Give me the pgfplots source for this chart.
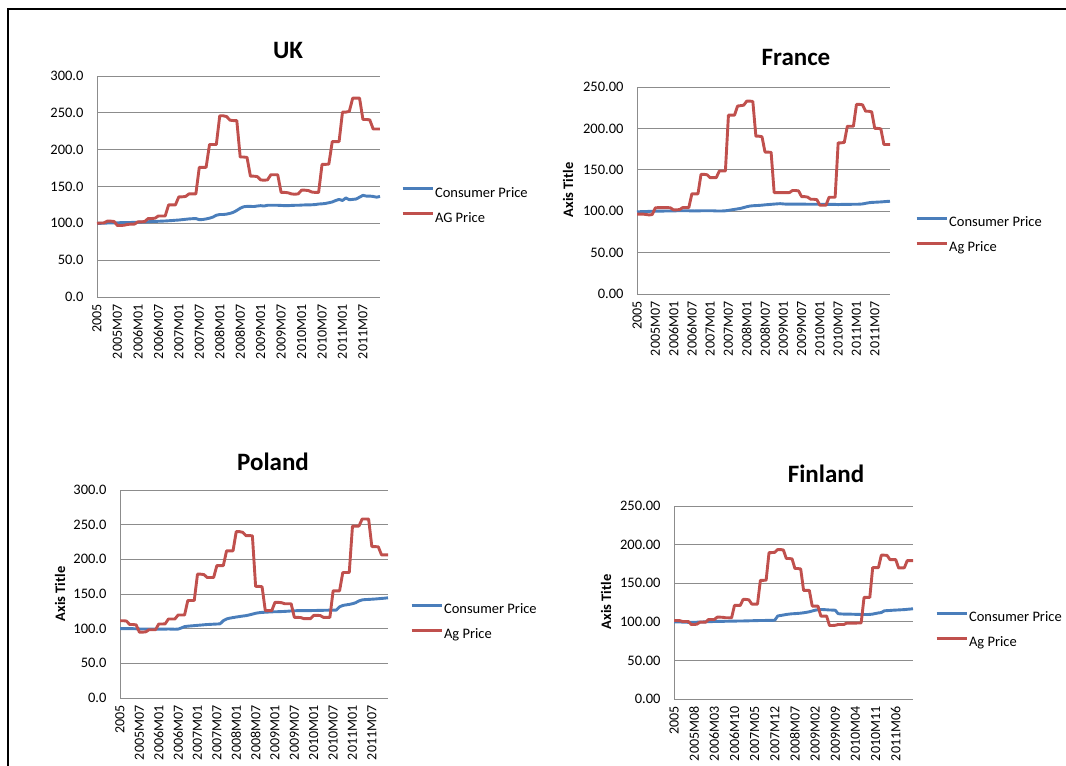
\documentclass[border=0pt]{standalone}
\usepackage{pgfplots}
\pgfplotsset{compat=1.18}
\usepackage{pgfplotstable}
\usepackage{fontspec}
\setmainfont{Carlito}

\definecolor{cpi}{RGB}{74,126,187}
\definecolor{ag}{RGB}{192,80,77}
\definecolor{gridc}{RGB}{140,140,140}

% monthly index 2005M01 .. 2011M12, columns: consumer price, ag price
\pgfplotstableread{
cpi ag
100 100
100 100.5
100.2 100.5
100.4 103
100.5 103
100.6 102.5
100.8 97
100.9 97
101 97.5
101.1 98.5
101.2 99
101.3 99
101.5 102
101.7 102
102 102.5
102.2 106.5
102.4 106.5
102.6 107
102.8 110
103 110
103.2 110
103.5 125
103.8 125
104.2 125
104.5 136
105 136
105.5 136.5
106 140
106.3 140
106.5 140
105 176
105.2 176
106 176
107 207
108.5 207
111 207
112 246
112 246
112.5 245
113.5 240
115 239.5
117.5 239.5
120.5 190
122.5 190
123 189.5
123 164
122.8 164
123.5 163.5
124 159
123.5 158.5
124.5 159
124.5 166
124.5 166
124.5 166
124.3 142
124 142
124 141.5
124.3 140
124.5 139.5
124.5 140
124.8 145
125 145
125 144.5
125.2 142.5
125.5 142
126.2 142
126.5 180
127 180
128 180.5
129 211
131 211
132.5 211
131 251
134.5 251
132 252
132.5 270
133 270
135.5 270
138 241
137 241
137 240.5
136.5 228
135.5 228
136.5 228
}\ukdata

\pgfplotstableread{
cpi ag
99.3 96.5
99.4 96.5
99.5 96.5
99.6 96
99.8 95.5
100 96
100 104
100.1 104.4
100.1 104.4
100.2 104.4
100.3 104.4
100.3 104
100.4 101.6
100.5 101.6
100.6 102
100.6 104.4
100.6 104.4
100.5 104.4
100.4 121
100.3 121
100.4 121
100.5 144.5
100.6 144.5
100.6 144
100.6 140.5
100.5 140.5
100.3 140.5
100.2 148.5
100.3 148.5
100.5 148.5
101 216
101.6 216
102.2 216
102.8 227
103.4 227.5
104.4 228
105.4 233
106.2 233
106.6 232.5
106.8 190.6
107 190.6
107.3 190
107.7 171.4
108 171.4
108.3 171
108.6 122.5
108.9 122.5
109.1 122.5
108.8 122.5
108.5 122.5
108.5 122.5
108.5 125
108.5 125
108.5 124.5
108.5 117.6
108.5 117.6
108.4 117
108.4 114.4
108.4 114.4
108.4 114
108.4 107.2
108.4 107.2
108.3 107.2
108.3 116.8
108.3 116.8
108.2 116.8
108 182.6
108.2 182.6
108.3 183
108.3 202.6
108.3 202.6
108.4 202.6
108.4 229
108.5 229
108.8 228.5
109.5 220.7
110.2 220.7
110.6 220
110.8 200
111 200
111.2 199.5
111.5 180.6
111.8 180.6
112 180.6
}\frdata

\pgfplotstableread{
cpi ag
100 111.5
100 111.5
100 111
100 106
100 106
99.8 105.5
99.6 95
99.5 95
99.5 95.5
99.6 98.5
99.5 98.5
99.4 98.5
99.3 106.7
99.3 106.7
99.4 107
99.5 114
99.4 114
99.2 114
99.4 119.7
101 119.7
103 119.7
103.6 140.7
104 140.7
104.4 140.7
104.8 178.6
105.2 178.6
105.6 178
106 173.8
106.2 173.8
106.5 173.8
106.7 191
107 191
111.5 191
114 212.2
115.2 212.2
116 212.2
116.8 240
117.5 240
118.2 239
118.8 234.2
119.8 234.2
121 234
122.2 161
123 161
123.5 160.5
123.7 126
124 126
124.3 126
124.4 138
124.5 138
124.7 137.5
124.9 136
125.2 136
125.6 136
125.8 116.3
126 116.3
126 116
126 114.4
126 114.4
126.1 114.4
126.2 119.2
126.3 119.2
126.4 119
126.5 116.3
126.6 116.3
126.7 116.3
126.8 154.6
126.8 154.6
131.5 154.6
133.5 181
134.3 181
135 181
136 248
137.5 248
140 248
141.5 258.2
142 258.2
142.2 258
142.5 218.4
142.8 218.4
143.2 218
143.6 206.4
144 206.4
144.5 206.4
}\pldata

\pgfplotstableread{
cpi ag
100 101.7
100 101.7
99.8 101.5
99.6 100.4
99.5 100.4
99.3 100.4
99.2 96.5
99.3 96.5
99.5 97
99.7 99.6
99.8 99.6
100 99.6
100.1 103
100.3 103
100.4 103
100.5 106
100.5 106
100.6 105.8
100.7 105.2
100.8 105.2
100.8 105.2
100.9 121.2
101 121.2
101 121.2
101.1 129
101.2 129
101.3 128.5
101.4 123
101.5 123
101.6 123
101.7 153.7
101.7 153.7
101.8 154
101.8 189.7
101.9 189.7
102 190
107.5 193.6
108.2 193.6
108.8 193
109.5 182
110 182
110.4 181.5
110.6 169
110.9 169
111.2 168.5
111.7 140.7
112.3 140.7
113 140.7
114 120.4
115 120.4
115.6 120.4
116 107.4
115.8 107.4
115.6 107.4
115.3 95.2
115.2 95.2
115 95.5
110.5 96.5
110.2 96.5
110 96.5
110 98.3
110 98.3
109.8 98.3
109.7 98.3
109.6 98.5
109.5 98.5
109.5 131.6
109.4 131.6
109.6 131.6
110 170.2
110.8 170.2
111.5 170.2
112 186.3
114.2 186.3
114.5 186
114.7 180.6
115 180.6
115.2 180.6
115.4 169.8
115.6 169.8
115.8 170
116.2 179.3
116.5 179.3
116.9 179.3
}\fidata

\pgfplotsset{
  xlchart/.style={
    scale only axis,
    anchor=south west,
    xmin=0, xmax=83, ymin=0,
    clip=false,
    axis x line*=bottom, axis y line*=left,
    axis line style={gridc, line width=1pt, -},
    ymajorgrids, grid style={gridc, line width=0.9pt},
    major tick length=0pt,
    xtick={0,6,...,78},
    xticklabels={2005,2005M07,2006M01,2006M07,2007M01,2007M07,2008M01,2008M07,2009M01,2009M07,2010M01,2010M07,2011M01,2011M07},
    xticklabel shift=4pt,
    xticklabel style={rotate=90, anchor=east, font=\fontsize{14}{16}\selectfont},
    yticklabel shift=10pt,
    yticklabel style={font=\fontsize{14.5}{17}\selectfont},
    /pgf/number format/assume math mode=true,
    /pgf/number format/fixed,
    /pgf/number format/fixed zerofill,
    legend style={draw=none, fill=none, inner sep=0pt, anchor=west,
      font=\fontsize{14.5}{17}\selectfont, row sep=9pt, column sep=0pt,
      nodes={inner sep=1pt, text height=11pt, text depth=3pt}},
    legend cell align=left,
    legend image code/.code={\draw[#1] (0pt,4.5pt) -- (30pt,4.5pt);},
  },
  cpiline/.style={cpi, line width=2.9pt, line join=round},
  agline/.style={ag, line width=2.9pt, line join=round},
}

\begin{document}
\begin{tikzpicture}
\path[use as bounding box] (0pt,0pt) rectangle (1066pt,-766pt);
\draw[line width=2pt] (8pt,-766pt) -- (8pt,-9pt) -- (1066pt,-9pt);

% UK
\begin{axis}[xlchart, at={(97pt,-297pt)}, width=283pt, height=221pt,
  ymax=300, ytick={0,50,...,300}, /pgf/number format/precision=1,
  legend style={at={(1.074,0.414)}}]
\addplot[cpiline] table[x expr=\coordindex, y=cpi] {\ukdata};
\addplot[agline] table[x expr=\coordindex, y=ag] {\ukdata};
\legend{Consumer Price, AG Price}
\end{axis}
\node[font=\bfseries\fontsize{25}{30}\selectfont] at (288pt,-50pt) {UK};

% France
\begin{axis}[xlchart, at={(637pt,-294pt)}, width=253pt, height=207pt,
  ymax=250, ytick={0,50,...,250}, /pgf/number format/precision=2,
  legend style={at={(1.099,0.283)}}]
\addplot[cpiline] table[x expr=\coordindex, y=cpi] {\frdata};
\addplot[agline] table[x expr=\coordindex, y=ag] {\frdata};
\legend{Consumer Price, Ag Price}
\end{axis}
\node[font=\bfseries\fontsize{25}{30}\selectfont] at (796pt,-57pt) {France};
\node[rotate=90, font=\bfseries\fontsize{14.5}{17}\selectfont] at (568pt,-190pt) {Axis Title};

% Poland
\begin{axis}[xlchart, at={(120pt,-698pt)}, width=268pt, height=208pt,
  ymax=300, ytick={0,50,...,300}, /pgf/number format/precision=1,
  legend style={at={(1.082,0.365)}}]
\addplot[cpiline] table[x expr=\coordindex, y=cpi] {\pldata};
\addplot[agline] table[x expr=\coordindex, y=ag] {\pldata};
\legend{Consumer Price, Ag Price}
\end{axis}
\node[font=\bfseries\fontsize{25}{30}\selectfont] at (273pt,-462pt) {Poland};
\node[rotate=90, font=\bfseries\fontsize{14.5}{17}\selectfont] at (60pt,-594pt) {Axis Title};

% Finland
\begin{axis}[xlchart, at={(674pt,-699pt)}, width=239pt, height=193pt,
  ymax=250, ytick={0,50,...,250}, /pgf/number format/precision=2,
  xtick={0,7,...,77},
  xticklabels={2005,2005M08,2006M03,2006M10,2007M05,2007M12,2008M07,2009M02,2009M09,2010M04,2010M11,2011M06},
  legend style={at={(1.092,0.357)}}]
\addplot[cpiline] table[x expr=\coordindex, y=cpi] {\fidata};
\addplot[agline] table[x expr=\coordindex, y=ag] {\fidata};
\legend{Consumer Price, Ag Price}
\end{axis}
\node[font=\bfseries\fontsize{25}{30}\selectfont] at (826pt,-474pt) {Finland};
\node[rotate=90, font=\bfseries\fontsize{14.5}{17}\selectfont] at (606pt,-602pt) {Axis Title};
\end{tikzpicture}
\end{document}
